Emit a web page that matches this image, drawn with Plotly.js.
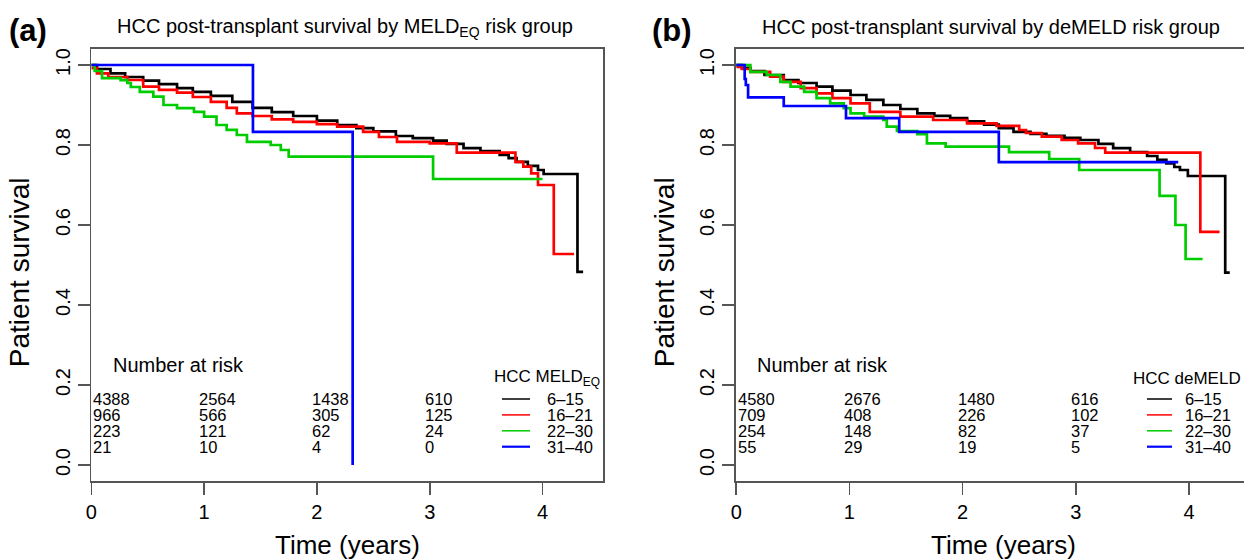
<!DOCTYPE html>
<html>
<head>
<meta charset="utf-8">
<script src="https://cdn.plot.ly/plotly-3.0.1.min.js"></script>
<style>html,body{margin:0;padding:0;background:#fff;}#chart{width:1244px;height:560px;}</style>
</head>
<body>
<div id="chart"></div>
<script>
// ---------- data ----------
const groups = ["6\u201315", "16\u201321", "22\u201330", "31\u201340"];
const groupColors = ["#000000", "#FF0000", "#00CD00", "#0000FF"];

// Panel (a): MELD_EQ
const aBlackT = [0,0.05,0.17,0.3,0.46,0.6,0.76,0.9,1.06,1.25,1.43,1.6,1.79,2.0,2.18,2.35,2.5,2.7,2.85,3.03,3.15,3.3,3.45,3.62,3.7,3.77,3.87,3.96,4.01,4.31,4.36];
const aBlackS = [1,0.99,0.979,0.97,0.961,0.952,0.942,0.933,0.923,0.908,0.893,0.882,0.8725,0.861,0.85,0.842,0.834,0.8225,0.817,0.811,0.803,0.792,0.785,0.775,0.767,0.758,0.748,0.7375,0.7275,0.483,0.483];
const aRedT = [0,0.05,0.15,0.32,0.46,0.6,0.76,0.9,1.06,1.2,1.29,1.43,1.6,1.79,2.0,2.18,2.41,2.55,2.71,3.0,3.24,3.76,3.83,3.9,3.96,4.10,4.28];
const aRedS = [0.992,0.979,0.97,0.9625,0.946,0.938,0.931,0.92,0.908,0.893,0.879,0.8725,0.864,0.858,0.852,0.846,0.833,0.82,0.808,0.804,0.781,0.758,0.746,0.729,0.70,0.5275,0.5275];
const aGreenT = [0,0.03,0.095,0.26,0.32,0.35,0.43,0.55,0.64,0.76,0.91,1.0,1.11,1.2,1.29,1.38,1.59,1.68,1.75,3.03,4.0];
const aGreenS = [1.0,0.985,0.967,0.962,0.955,0.945,0.933,0.921,0.90,0.892,0.883,0.871,0.85,0.838,0.825,0.808,0.80,0.7875,0.771,0.715,0.715];
const aBlueT = [0,1.433,2.317,2.317];
const aBlueS = [1.0,0.833,0.0,0.0];

// Panel (b): deMELD
const bBlackT = [0,0.05,0.125,0.25,0.42,0.55,0.71,0.85,1.01,1.15,1.30,1.45,1.60,1.75,1.89,2.04,2.19,2.32,2.45,2.6,2.74,2.9,3.04,3.2,3.33,3.48,3.63,3.72,3.80,3.87,3.92,3.99,4.32,4.36];
const bBlackS = [1,0.993,0.985,0.975,0.9625,0.955,0.946,0.936,0.925,0.913,0.90,0.89,0.879,0.873,0.867,0.859,0.851,0.842,0.833,0.828,0.823,0.818,0.8125,0.803,0.792,0.782,0.7725,0.763,0.754,0.745,0.7375,0.7225,0.481,0.481];
const bRedT = [0,0.05,0.125,0.30,0.42,0.57,0.71,0.85,1.01,1.18,1.45,1.74,2.04,2.30,2.50,2.56,2.70,2.875,3.02,3.17,3.26,4.10,4.27];
const bRedS = [0.995,0.99,0.983,0.971,0.958,0.942,0.929,0.917,0.904,0.883,0.871,0.8625,0.854,0.848,0.8375,0.83,0.821,0.8125,0.804,0.7925,0.781,0.583,0.583];
const bGreenT = [0,0.125,0.27,0.39,0.48,0.60,0.71,0.83,0.95,1.01,1.13,1.30,1.33,1.42,1.60,1.685,1.85,2.41,2.765,3.03,3.74,3.88,3.97,4.12];
const bGreenS = [1,0.983,0.975,0.958,0.946,0.933,0.917,0.904,0.892,0.879,0.871,0.8625,0.846,0.835,0.827,0.804,0.796,0.782,0.765,0.7375,0.673,0.60,0.515,0.515];
const bBlueT = [0,0.075,0.085,0.105,0.42,0.97,1.44,2.32,3.905];
const bBlueS = [1,0.965,0.95,0.919,0.8975,0.867,0.833,0.757,0.757];

// Numbers at risk (rows = groups, columns = times)
const riskTimes = [0, 1, 2, 3];
const aRisk = [[4388,2564,1438,610],[966,566,305,125],[223,121,62,24],[21,10,4,0]];
const bRisk = [[4580,2676,1480,616],[709,408,226,102],[254,148,82,37],[55,29,19,5]];

const yTicks = [0, 0.2, 0.4, 0.6, 0.8, 1.0];
const xTicks = [0, 1, 2, 3, 4];

// ---------- layout helpers ----------
const W = 1244, H = 560;
const FONT = "Liberation Sans, Arial, Helvetica, sans-serif";
const AXC = "#555555";
const pA = {left: 91.3, ppu: 112.8}, pB = {left: 736.2, ppu: 113.2};
const tOf = (p, px) => (px - p.left) / p.ppu;
const sOf = py => (465 - py) / 400;

const traces = [];
function addPanel(xa, ya, series) {
  series.forEach((s, i) => {
    traces.push({x: s[0], y: s[1], xaxis: xa, yaxis: ya, type: "scatter", mode: "lines",
      line: {shape: "hv", color: groupColors[i], width: 2.7}, showlegend: false, hoverinfo: "skip"});
  });
}
addPanel("x", "y", [[aBlackT, aBlackS], [aRedT, aRedS], [aGreenT, aGreenS], [aBlueT, aBlueS]]);
addPanel("x2", "y2", [[bBlackT, bBlackS], [bRedT, bRedS], [bGreenT, bGreenS], [bBlueT, bBlueS]]);

function xAxis(domain, range, mirror) {
  return {domain: domain, range: range, tickvals: xTicks, ticks: "outside", ticklen: 12, tickwidth: 1.6,
    tickcolor: AXC, showline: true, linecolor: AXC, linewidth: 1.8, mirror: mirror, showgrid: false,
    zeroline: false, tickfont: {family: FONT, size: 20, color: "#000"}, fixedrange: true};
}
function yAxis(anchor, mirror) {
  return {anchor: anchor, domain: [0, 1], range: [-0.04, 1.04], tickvals: yTicks,
    ticktext: yTicks.map(v => v.toFixed(1)), tickangle: -90, ticks: "outside", ticklen: 12, tickwidth: 1.6,
    tickcolor: AXC, showline: true, linecolor: AXC, linewidth: 1.8, mirror: mirror, showgrid: false,
    zeroline: false, tickfont: {family: FONT, size: 20, color: "#000"}, fixedrange: true};
}

const annotations = [];
const shapes = [];
function ann(o) { annotations.push(Object.assign({showarrow: false, font: {family: FONT, size: 17, color: "#000"}}, o)); }

function panelText(p, xa, ya, label, title, legendTitle, risk, leg) {
  const pyPaper = py => (481 - py) / 432;
  // panel label
  ann({xref: "paper", yref: "paper", x: label.x / W, y: pyPaper(31), xanchor: "left", yanchor: "middle",
       text: "<b>" + label.t + "</b>", font: {family: FONT, size: 31, color: "#000"}});
  // title
  ann({xref: "paper", yref: "paper", x: title.x / W, y: pyPaper(27), xanchor: "center", yanchor: "middle",
       text: title.t, font: {family: FONT, size: 20, color: "#000"}});
  // axis titles
  ann({xref: "paper", yref: "paper", x: (p.left - 72) / W, y: pyPaper(272), xanchor: "center", yanchor: "middle",
       textangle: -90, text: "Patient survival", font: {family: FONT, size: 28, color: "#000"}});
  ann({xref: "paper", yref: "paper", x: title.xt / W, y: pyPaper(545), xanchor: "center", yanchor: "middle",
       text: "Time (years)", font: {family: FONT, size: 26, color: "#000"}});
  // number at risk header
  ann({xref: xa, yref: ya, x: tOf(p, 110.5 - 91.3 + p.left), y: sOf(365), xanchor: "left", yanchor: "middle",
       text: "Number at risk", font: {family: FONT, size: 20, color: "#000"}});
  // number at risk table
  const rowPy = [399, 414.9, 430.8, 446.7];
  risk.forEach((row, gi) => {
    row.forEach((n, ci) => {
      ann({xref: xa, yref: ya, x: riskTimes[ci], y: sOf(rowPy[gi]), xanchor: "left", yanchor: "middle",
           xshift: ci === 0 ? 0 : -7, text: String(n), font: {family: FONT, size: 16.5, color: "#000"}});
    });
  });
  // legend
  ann({xref: xa, yref: ya, x: tOf(p, leg.title), y: sOf(378), xanchor: "left", yanchor: "middle",
       text: legendTitle, font: {family: FONT, size: 17, color: "#000"}});
  groups.forEach((g, gi) => {
    shapes.push({type: "line", xref: xa, yref: ya, x0: tOf(p, leg.l0), x1: tOf(p, leg.l1),
      y0: sOf(rowPy[gi]), y1: sOf(rowPy[gi]), line: {color: groupColors[gi], width: gi === 3 ? 2.2 : 1.5}});
    ann({xref: xa, yref: ya, x: tOf(p, leg.txt), y: sOf(rowPy[gi]), xanchor: "left", yanchor: "middle",
         text: g, font: {family: FONT, size: 16.5, color: "#000"}});
  });
}

panelText(pA, "x", "y", {x: 7, t: "(a)"},
  {x: 344.5, xt: 347.5, t: "HCC post-transplant survival by MELD<sub>EQ</sub> risk group"},
  "HCC MELD<sub>EQ</sub>", aRisk, {title: 492, l0: 502, l1: 530, txt: 545});
panelText(pB, "x2", "y2", {x: 650, t: "(b)"},
  {x: 991.5, xt: 1003, t: "HCC post-transplant survival by deMELD risk group"},
  "HCC deMELD", bRisk, {title: 1131, l0: 1147, l1: 1172, txt: 1183});

const layout = {
  width: W, height: H, margin: {l: 0, r: 0, t: 49, b: 79},
  paper_bgcolor: "#ffffff", plot_bgcolor: "#ffffff", showlegend: false,
  font: {family: FONT, color: "#000"},
  xaxis: Object.assign(xAxis([pA.left / W, 603 / W], [0, tOf(pA, 603)], true), {anchor: "y"}),
  yaxis: yAxis("x", true),
  xaxis2: Object.assign(xAxis([pB.left / W, 1], [0, tOf(pB, W)], true), {anchor: "y2"}),
  yaxis2: yAxis("x2", false),
  annotations: annotations, shapes: shapes
};

Plotly.newPlot("chart", traces, layout, {staticPlot: true, displayModeBar: false});
</script>
</body>
</html>
